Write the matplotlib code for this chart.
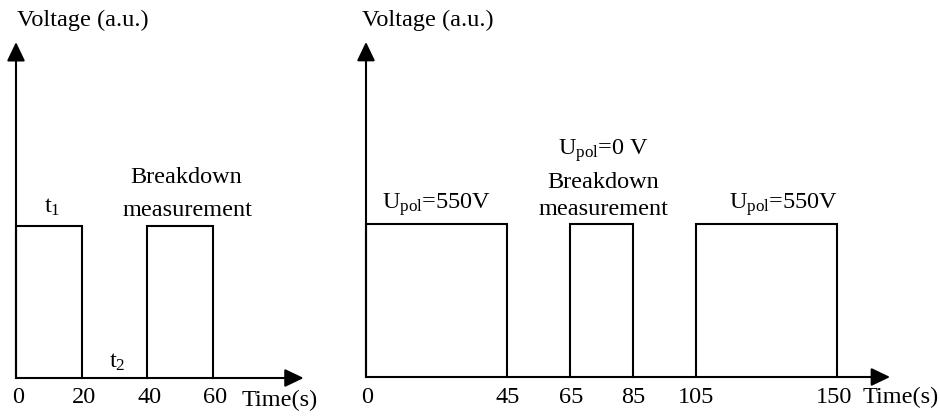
import matplotlib
matplotlib.use('Agg')
import matplotlib.pyplot as plt

plt.rcParams['font.family'] = ['Liberation Serif', 'DejaVu Serif']
plt.rcParams['mathtext.fontset'] = 'custom'
plt.rcParams['mathtext.rm'] = 'Liberation Serif'
plt.rcParams['mathtext.it'] = 'Liberation Serif:italic'

# data
left_pulses = [(0, 20), (40, 60)]
left_ticks = [0, 20, 40, 60]
left_tick_labels = ['0', '20', '40', '60']

right_pulses = [(0, 45), (65, 85), (105, 150)]
right_ticks = [0, 45, 65, 85, 105, 150]
right_tick_labels = ['0', '45', '65', '85', '105', '150']

pulse_height = 1.0

W, H = 940, 416
fig = plt.figure(figsize=(W / 100, H / 100), dpi=100)

FS = 17.5
LW = 1.5


def make_axes(left_px, width_px, x0_px, t_scale, y0_px, y_scale):
    ax = fig.add_axes([left_px / W, 0, width_px / W, 1])
    ax.set_xlim((left_px - x0_px) / t_scale, (left_px + width_px - x0_px) / t_scale)
    ax.set_ylim((y0_px - H) / y_scale, y0_px / y_scale)
    ax.axis('off')
    return ax


def draw_frame(ax, pulses, x_tip, y_tip):
    arrow = dict(arrowstyle='-|>,head_length=1.15,head_width=0.55', lw=LW,
                 color='black', shrinkA=0, shrinkB=0, mutation_scale=10)
    ax.annotate('', xy=(x_tip, 0), xytext=(0, 0), arrowprops=arrow)
    ax.annotate('', xy=(0, y_tip), xytext=(0, 0), arrowprops=arrow)
    for a, b in pulses:
        ax.plot([a, a, b, b], [0, pulse_height, pulse_height, 0],
                color='black', lw=LW, solid_joinstyle='miter')


# left panel
ax1 = make_axes(0, 330, 16, 3.28, 378, 152)
draw_frame(ax1, left_pulses, 87.7, 2.21)
for t, lab in zip(left_ticks, left_tick_labels):
    ax1.text(t + 0.6, -0.13, lab, ha='center', va='center', fontsize=FS)
ax1.text(68.9, -0.145, 'Time(s)', ha='left', va='center', fontsize=FS)
ax1.text(0.2, 2.355, 'Voltage (a.u.)', ha='left', va='center', fontsize=FS)
ax1.text(11, 1.12, r't$_1$', ha='center', va='center', fontsize=FS)
ax1.text(31, 0.105, r't$_2$', ha='center', va='center', fontsize=FS)
ax1.text(51.8, 1.32, 'Breakdown', ha='center', va='center', fontsize=FS)
ax1.text(52.4, 1.105, 'measurement', ha='center', va='center', fontsize=FS)

# right panel
ax2 = make_axes(330, 610, 366, 3.14, 377, 153)
draw_frame(ax2, right_pulses, 166.9, 2.19)
for t, lab in zip(right_ticks, right_tick_labels):
    shift = -0.8 if lab == '150' else 0.2
    ax2.text(t + shift, -0.135, lab, ha='center', va='center', fontsize=FS)
ax2.text(158.3, -0.135, 'Time(s)', ha='left', va='center', fontsize=FS)
ax2.text(-1.3, 2.33, 'Voltage (a.u.)', ha='left', va='center', fontsize=FS)
ax2.text(22.6, 1.13, r'U$_{\mathrm{pol}}$=550V', ha='center', va='center', fontsize=FS)
ax2.text(75.5, 1.48, r'U$_{\mathrm{pol}}$=0 V', ha='center', va='center', fontsize=FS)
ax2.text(75.5, 1.273, 'Breakdown', ha='center', va='center', fontsize=FS)
ax2.text(75.5, 1.097, 'measurement', ha='center', va='center', fontsize=FS)
ax2.text(133, 1.13, r'U$_{\mathrm{pol}}$=550V', ha='center', va='center', fontsize=FS)

fig.savefig('out.png', dpi=100, facecolor='white')
